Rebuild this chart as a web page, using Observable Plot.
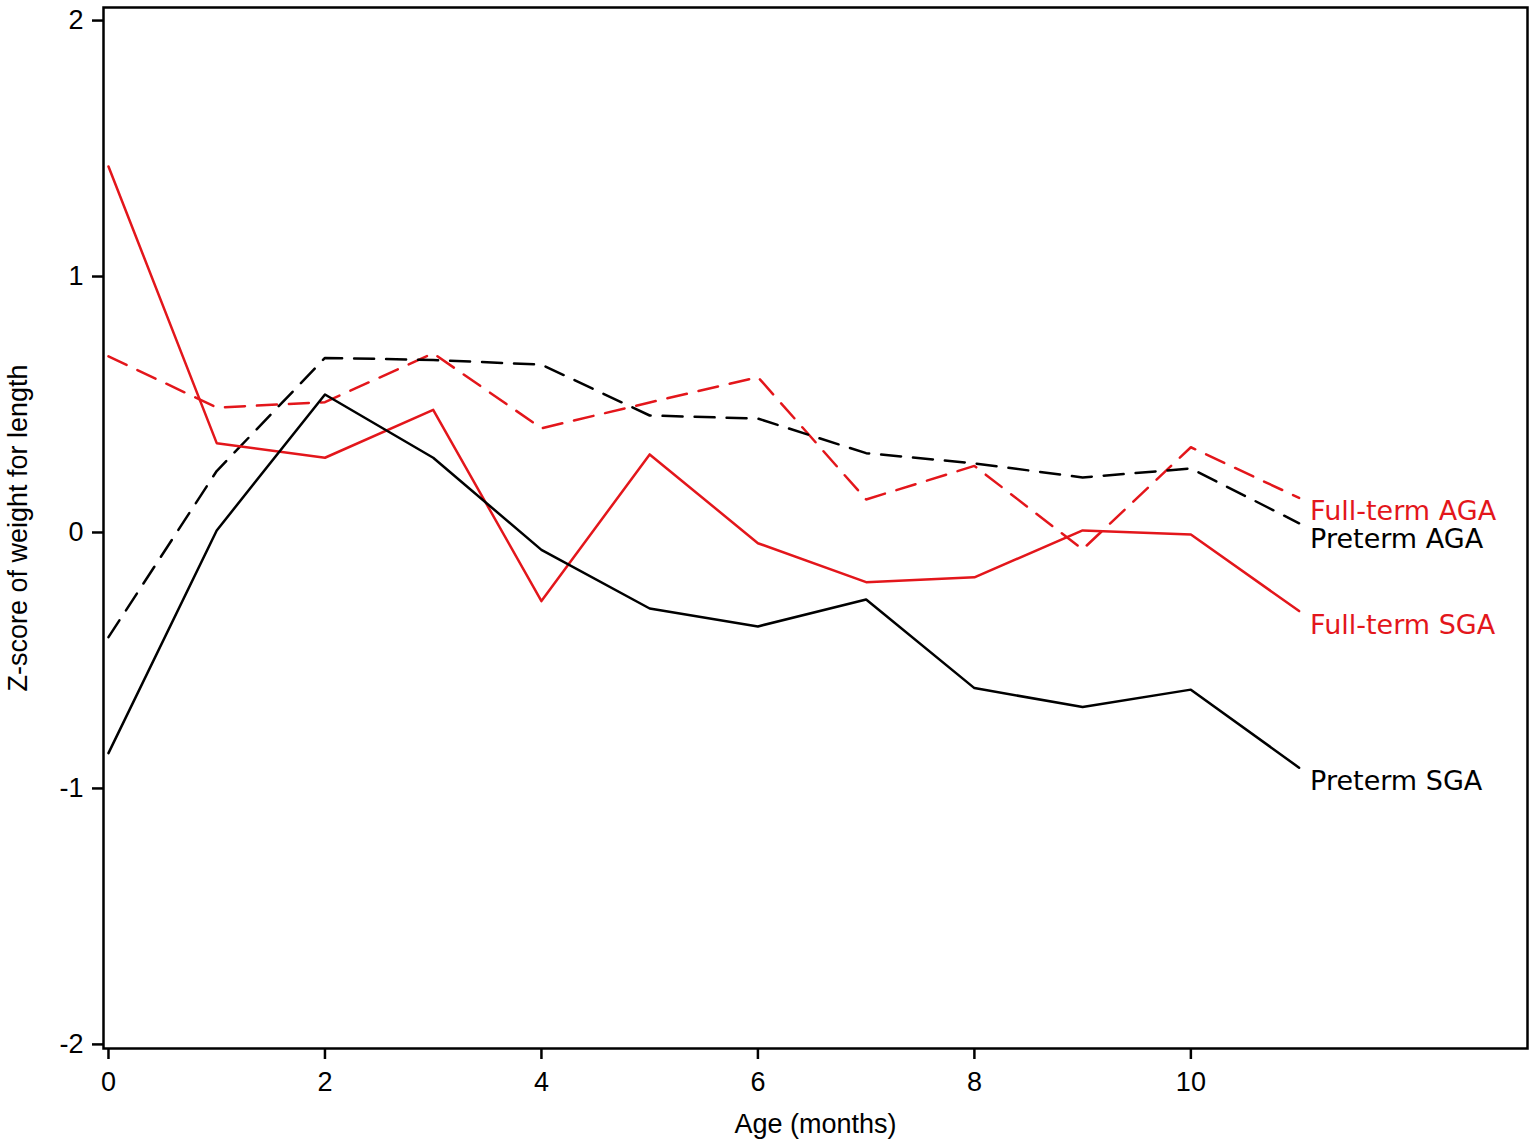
<!DOCTYPE html>
<html><head><meta charset="utf-8">
<script src="https://cdn.jsdelivr.net/npm/d3@7"></script>
<script src="https://cdn.jsdelivr.net/npm/@observablehq/plot@0.6"></script>
<style>body{margin:0;background:#fff}</style>
</head><body><div id="chart"></div>
<script>
const months = [0, 1, 2, 3, 4, 5, 6, 7, 8, 9, 10, 11];
const fullTermAGA = [0.688, 0.488, 0.509, 0.700, 0.407, 0.508, 0.607, 0.129, 0.260, -0.066, 0.333, 0.135];
const pretermAGA  = [-0.409, 0.240, 0.682, 0.674, 0.656, 0.457, 0.445, 0.310, 0.270, 0.215, 0.250, 0.036];
const fullTermSGA = [1.430, 0.349, 0.292, 0.479, -0.268, 0.305, -0.042, -0.194, -0.175, 0.008, -0.008, -0.307];
const pretermSGA  = [-0.862, 0.008, 0.539, 0.292, -0.068, -0.297, -0.367, -0.262, -0.608, -0.682, -0.614, -0.919];
const seriesNames = ["Full-term AGA", "Preterm AGA", "Full-term SGA", "Preterm SGA"];
const xTicks = [0, 2, 4, 6, 8, 10];
const yTicks = [-2, -1, 0, 1, 2];
const xLabel = "Age (months)";
const yLabel = "Z-score of weight for length";

const seriesValues = [fullTermAGA, pretermAGA, fullTermSGA, pretermSGA];
const seriesStyles = [
  {color: "#e3161b", dash: "20,12", dy: 13},
  {color: "#000000", dash: "20,12", dy: 16},
  {color: "#e3161b", dash: null, dy: 14},
  {color: "#000000", dash: null, dy: 14}
];

const tables = seriesNames.map((name, i) =>
  months.map((m, j) => ({month: m, value: seriesValues[i][j], series: name})));

const lineMarks = tables.map((t, i) => Plot.line(t, {
  x: "month", y: "value",
  stroke: seriesStyles[i].color,
  strokeWidth: 2.5,
  strokeDasharray: seriesStyles[i].dash || undefined
}));

const labelMarks = tables.map((t, i) => Plot.text([t[t.length - 1]], {
  x: "month", y: "value", text: "series",
  fill: seriesStyles[i].color,
  textAnchor: "start", dx: 11, dy: seriesStyles[i].dy,
  fontSize: 27, fontFamily: "'DejaVu Sans', sans-serif"
}));

const plot = Plot.plot({
  width: 1535, height: 1144,
  marginLeft: 103, marginRight: 8, marginTop: 7, marginBottom: 96,
  style: {fontFamily: "'Liberation Sans', Arial, sans-serif", background: "#fff", color: "#000"},
  x: {domain: [-0.046, 13.11]},
  y: {domain: [-2.016, 2.051]},
  marks: [
    ...lineMarks,
    ...labelMarks,
    Plot.axisX({ticks: xTicks, tickSize: 11, tickPadding: 12, fontSize: 27, strokeWidth: 2.5, label: null, tickFormat: d => String(d)}),
    Plot.axisY({ticks: yTicks, tickSize: 11, tickPadding: 9, fontSize: 27, strokeWidth: 2.5, label: null, tickFormat: d => String(d)}),
    Plot.frame({strokeWidth: 2.5}),
    Plot.text([xLabel], {text: d => d, frameAnchor: "bottom", lineAnchor: "middle", textAnchor: "middle", dy: 76, fontSize: 27}),
    Plot.text([yLabel], {text: d => d, frameAnchor: "left", lineAnchor: "middle", textAnchor: "middle", dx: -85, rotate: -90, fontSize: 27})
  ]
});
document.getElementById("chart").appendChild(plot);
</script>
</body></html>
